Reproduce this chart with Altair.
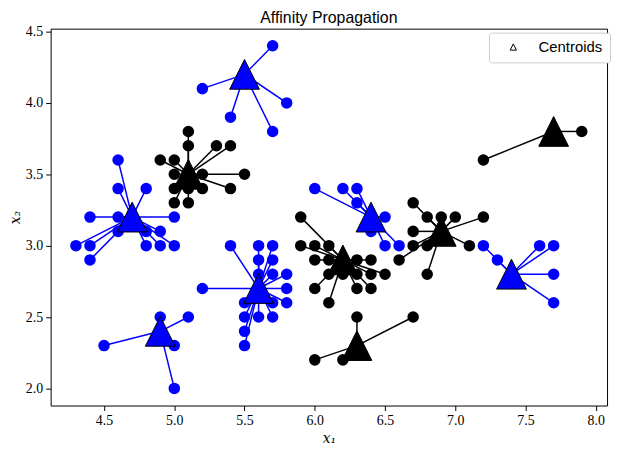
import altair as alt
import pandas as pd

# Cluster exemplars (centroids) and their colours
centers_x = [4.7, 5.1, 5.5, 5.6, 4.9, 6.2, 6.4, 6.9, 7.4, 7.7, 6.3]
centers_y = [3.2, 3.5, 4.2, 2.7, 2.4, 2.9, 3.2, 3.1, 2.8, 3.8, 2.3]
cluster_colors = ["blue", "black", "blue", "blue", "blue", "black",
                  "blue", "black", "blue", "black", "black"]

# Members of each cluster (x1, x2)
members_x = [
    [4.6, 4.6, 4.8, 4.4, 4.6, 4.7, 5.0, 4.6, 4.8, 4.9, 4.3, 4.4, 4.8, 4.9, 5.0, 4.4],
    [5.1, 5.1, 5.3, 5.4, 4.9, 5.0, 5.0, 5.1, 5.2, 5.5, 5.0, 5.1, 5.2, 5.4, 5.0, 5.1],
    [5.7, 5.2, 5.8, 5.4, 5.7, 5.5],
    [5.4, 5.6, 5.7, 5.6, 5.7, 5.6, 5.7, 5.8, 5.2, 5.6, 5.8, 5.5, 5.7, 5.8, 5.5, 5.6, 5.7, 5.5, 5.5],
    [4.9, 5.1, 4.5, 5.0, 5.0, 4.9],
    [5.9, 5.9, 6.0, 6.1, 6.0, 6.1, 6.2, 6.3, 6.4, 6.1, 6.2, 6.3, 6.4, 6.5, 6.0, 6.3, 6.4, 6.1],
    [6.0, 6.2, 6.3, 6.3, 6.4, 6.5, 6.4, 6.5, 6.6],
    [6.7, 6.8, 6.9, 7.0, 7.2, 6.7, 6.9, 6.7, 6.8, 7.1, 6.6, 6.8],
    [7.2, 7.3, 7.6, 7.7, 7.7, 7.7, 7.4],
    [7.2, 7.9, 7.7],
    [6.3, 6.7, 6.0, 6.2, 6.3],
]
members_y = [
    [3.6, 3.4, 3.4, 3.2, 3.2, 3.2, 3.2, 3.1, 3.1, 3.1, 3.0, 3.0, 3.0, 3.0, 3.0, 2.9],
    [3.8, 3.7, 3.7, 3.7, 3.6, 3.6, 3.5, 3.5, 3.5, 3.5, 3.4, 3.4, 3.4, 3.4, 3.3, 3.3],
    [4.4, 4.1, 4.0, 3.9, 3.8, 4.2],
    [3.0, 3.0, 3.0, 2.9, 2.9, 2.8, 2.8, 2.8, 2.7, 2.7, 2.7, 2.6, 2.6, 2.6, 2.5, 2.5, 2.5, 2.4, 2.3],
    [2.5, 2.5, 2.3, 2.3, 2.0, 2.4],
    [3.2, 3.0, 3.0, 3.0, 2.9, 2.9, 2.9, 2.9, 2.9, 2.8, 2.8, 2.8, 2.8, 2.8, 2.7, 2.7, 2.7, 2.6],
    [3.4, 3.4, 3.4, 3.3, 3.2, 3.2, 3.1, 3.0, 3.0],
    [3.3, 3.2, 3.2, 3.2, 3.2, 3.1, 3.1, 3.0, 3.0, 3.0, 2.9, 2.8],
    [3.0, 2.9, 3.0, 3.0, 2.8, 2.6, 2.8],
    [3.6, 3.8, 3.8],
    [2.5, 2.5, 2.2, 2.2, 2.3],
]

x_ticks = [4.5, 5.0, 5.5, 6.0, 6.5, 7.0, 7.5, 8.0]
y_ticks = [2.0, 2.5, 3.0, 3.5, 4.0, 4.5]

rows = []
for k in range(len(centers_x)):
    for px, py in zip(members_x[k], members_y[k]):
        rows.append({"x": px, "y": py, "cx": centers_x[k], "cy": centers_y[k],
                     "col": cluster_colors[k], "k": k})
pts = pd.DataFrame(rows)
cents = pd.DataFrame({"x": centers_x, "y": centers_y, "col": cluster_colors,
                      "lab": ["Centroids"] * len(centers_x)})

xs = alt.Scale(domain=[4.12, 8.08], nice=False, zero=False)
ys = alt.Scale(domain=[1.88, 4.52], nice=False, zero=False)

xax = alt.Axis(values=x_ticks, format=".1f", title="x₁", grid=False)
yax = alt.Axis(values=y_ticks, format=".1f", title="x₂", grid=False)

base = alt.Chart(pts)

lines = base.mark_rule(strokeWidth=1.5).encode(
    x=alt.X("x:Q", scale=xs, axis=xax),
    y=alt.Y("y:Q", scale=ys, axis=yax),
    x2="cx:Q", y2="cy:Q",
    color=alt.Color("col:N", scale=None),
)

dots = base.mark_point(filled=True, size=135, shape="circle", opacity=1).encode(
    x=alt.X("x:Q", scale=xs),
    y=alt.Y("y:Q", scale=ys),
    color=alt.Color("col:N", scale=None),
)

tri_path = "M0,-1L1,1L-1,1Z"
tris = alt.Chart(cents).mark_point(filled=True, size=900, opacity=1,
                                    stroke="black", strokeWidth=1).encode(
    x=alt.X("x:Q", scale=xs),
    y=alt.Y("y:Q", scale=ys),
    fill=alt.Fill("col:N", scale=None),
    shape=alt.Shape("lab:N", scale=alt.Scale(range=[tri_path]),
                    legend=alt.Legend(title=None, orient="none", legendX=442, legendY=4,
                                      symbolFillColor="white", symbolStrokeColor="black",
                                      symbolStrokeWidth=1, symbolSize=40,
                                      labelFont="Liberation Sans", labelFontSize=15,
                                      labelColor="black", labelOffset=18, symbolOffset=10,
                                      padding=7, strokeColor="#cccccc", cornerRadius=3,
                                      fillColor="white")),
)

chart = alt.layer(dots, lines, tris).properties(
    width=561, height=380,
    title=alt.Title("Affinity Propagation", font="Liberation Sans", fontSize=16,
                    fontWeight="normal", color="black", offset=3, dy=4),
    autosize=alt.AutoSizeParams(type="none"),
    padding={"left": 43, "top": 19, "right": 5, "bottom": 45},
).configure_view(stroke="black", strokeWidth=1).configure_axis(
    labelFont="Liberation Serif", labelFontSize=14, labelColor="black",
    tickColor="black", tickSize=5, domain=False, labelPadding=3,
    titleFont="DejaVu Serif", titleFontStyle="italic", titleFontWeight="normal",
    titleFontSize=14, titleColor="black",
).configure_axisX(titlePadding=4).configure_axisY(titlePadding=3)

chart.save("out.html", embed_options={"renderer": "svg", "actions": False})
